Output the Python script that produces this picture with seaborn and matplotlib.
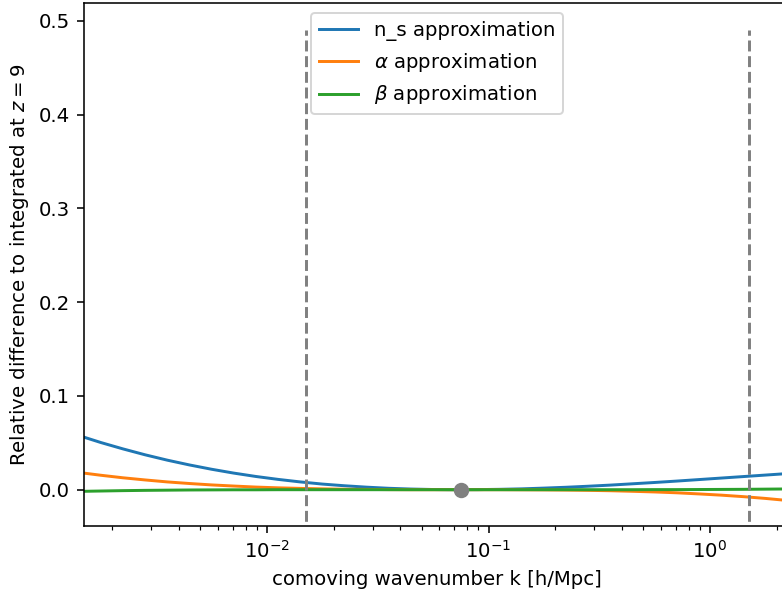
import matplotlib
matplotlib.use("Agg")
import numpy as np
import pandas as pd
import seaborn as sns
import matplotlib.pyplot as plt

# log10 of comoving wavenumber k [h/Mpc]
log10_k = [-2.85, -2.75, -2.65, -2.55, -2.45, -2.35, -2.25, -2.15, -2.05, -1.95,
           -1.85, -1.75, -1.65, -1.55, -1.45, -1.35, -1.25, -1.15, -1.05, -0.95,
           -0.85, -0.75, -0.65, -0.55, -0.45, -0.35, -0.25, -0.15, -0.05, 0.05,
           0.15, 0.25, 0.35]

# relative difference of each approximation to the integrated spectrum at z = 9
ns_diff = [0.0578, 0.0503, 0.0435, 0.0372, 0.0315, 0.0264, 0.0218, 0.0177, 0.0141, 0.0110,
           0.0083, 0.0060, 0.0042, 0.0027, 0.0015, 0.0007, 0.0002, 0.0000, 0.0001, 0.0004,
           0.0009, 0.0017, 0.0026, 0.0037, 0.0049, 0.0063, 0.0077, 0.0092, 0.0108, 0.0124,
           0.0140, 0.0156, 0.0172]
alpha_diff = [0.0184, 0.0154, 0.0127, 0.0104, 0.0083, 0.0066, 0.0051, 0.0039, 0.0028, 0.0020,
              0.0014, 0.0009, 0.0005, 0.0003, 0.0001, 0.0000, 0.0000, 0.0000, 0.0000, 0.0000,
              -0.0001, -0.0002, -0.0004, -0.0007, -0.0011, -0.0017, -0.0024, -0.0033, -0.0045, -0.0058,
              -0.0074, -0.0093, -0.0115]
beta_diff = [-0.0018, -0.0014, -0.0010, -0.0007, -0.0005, -0.0003, -0.0002, -0.0001, -0.0001, 0.0000,
             0.0000, 0.0000, 0.0000, 0.0000, 0.0000, 0.0000, 0.0000, 0.0000, 0.0000, 0.0000,
             0.0000, 0.0000, 0.0000, 0.0000, 0.0000, 0.0000, 0.0001, 0.0001, 0.0002, 0.0003,
             0.0004, 0.0006, 0.0008]

series_labels = ["n_s approximation", r"$\alpha$ approximation", r"$\beta$ approximation"]
series_colors = ["#1f77b4", "#ff7f0e", "#2ca02c"]

k_pivot = 0.075          # pivot scale where all approximations agree
k_bounds = [0.015, 1.5]  # fitted range
vline_bottom, vline_top = -0.05, 0.49

k = 10.0 ** np.array(log10_k)
frames = []
for label, diff in zip(series_labels, [ns_diff, alpha_diff, beta_diff]):
    frames.append(pd.DataFrame({"k": k, "diff": diff, "model": label}))
df = pd.concat(frames, ignore_index=True)

DPI = 142
fig = plt.figure(figsize=(782 / DPI, 594 / DPI), dpi=DPI)
ax = fig.add_axes([84 / 782, 68 / 594, 706 / 782, 523 / 594])

for label, color in zip(series_labels, series_colors):
    sub = df[df["model"] == label]
    sns.lineplot(data=sub, x="k", y="diff", color=color, label=label,
                 estimator=None, sort=False, linewidth=1.5, ax=ax)

ax.vlines(k_bounds, vline_bottom, vline_top, colors="gray", linestyles="--", linewidth=1.5)
ax.plot([k_pivot], [0.0], "o", color="gray", markersize=6.8)

ax.set_xscale("log")
ax.set_xlim(1.493e-3, 2.296)
ax.set_ylim(-0.0387, 0.5189)
ax.set_yticks([0.0, 0.1, 0.2, 0.3, 0.4, 0.5])
ax.set_xlabel("comoving wavenumber k [h/Mpc]")
ax.set_ylabel("Relative difference to integrated at $z=9$")
ax.legend(loc="upper center")

fig.savefig("out.png", dpi=DPI)
